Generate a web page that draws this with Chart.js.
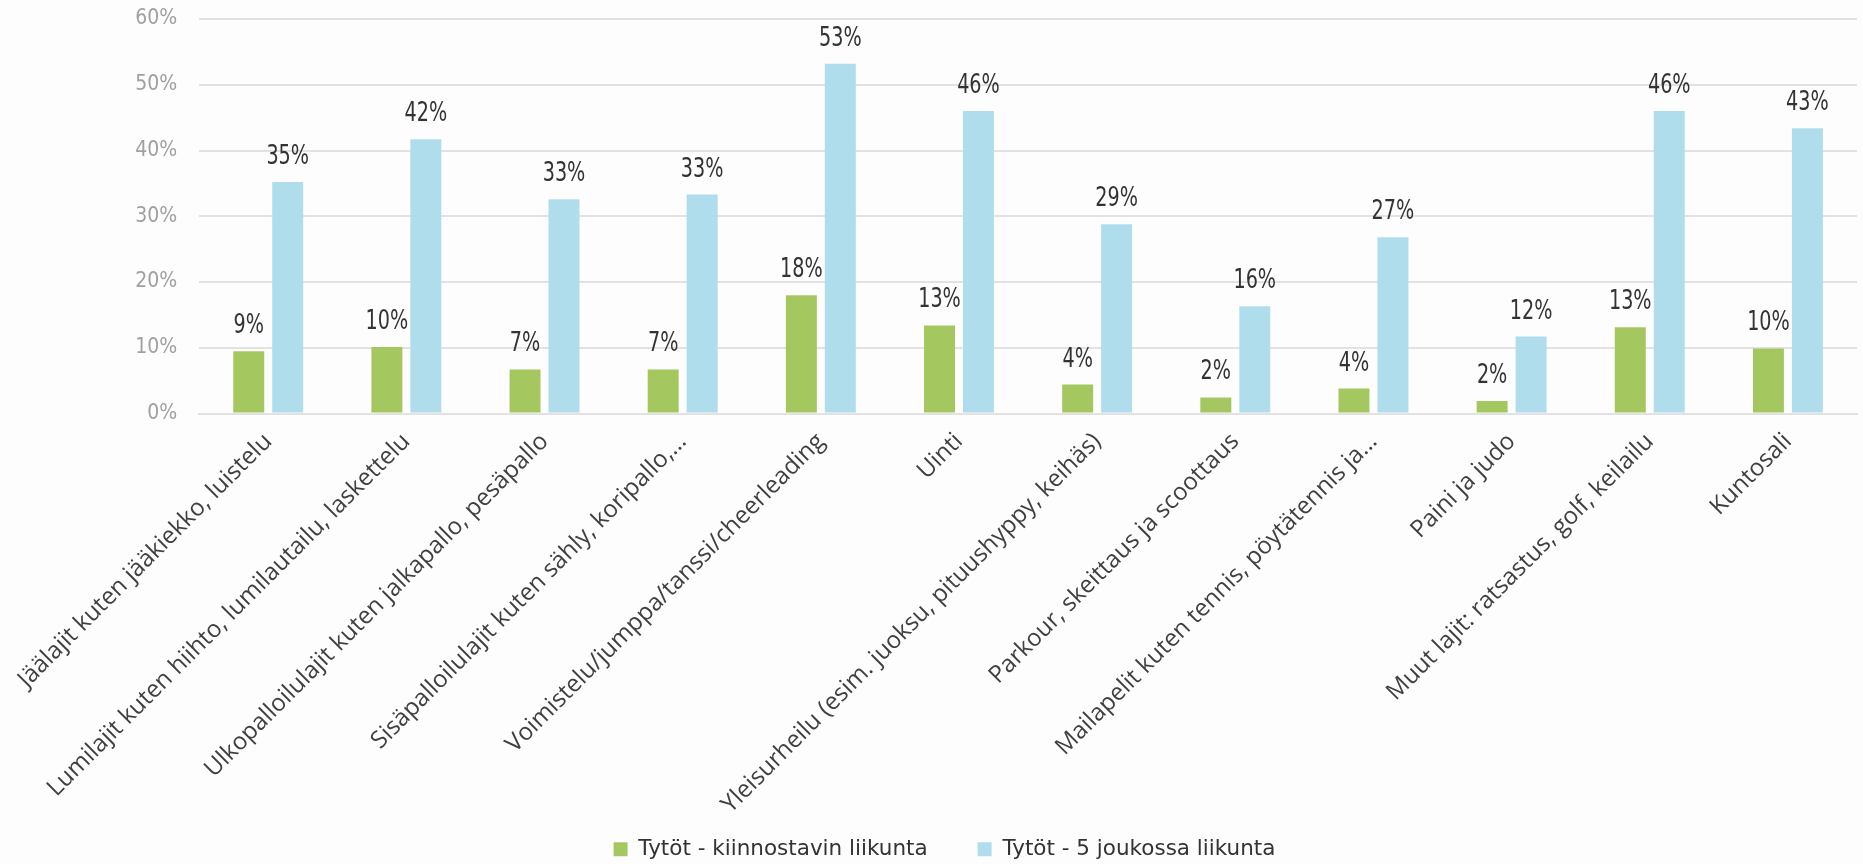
<!DOCTYPE html>
<html lang="fi">
<head>
<meta charset="utf-8">
<title>Tytöt - liikunta</title>
<script src="https://cdn.jsdelivr.net/npm/chart.js@4"></script>
<style>
    html, body { margin: 0; padding: 0; background: #fdfdfd; }
    #wrap { width: 1863px; height: 864px; position: relative; }
</style>
</head>
<body>
<div id="wrap"><canvas id="sportChart"></canvas></div>
<script>
// lajit
const categories = [
    'Jäälajit kuten jääkiekko, luistelu',
    'Lumilajit kuten hiihto, lumilautailu, laskettelu',
    'Ulkopalloilulajit kuten jalkapallo, pesäpallo',
    'Sisäpalloilulajit kuten sähly, koripallo,…',
    'Voimistelu/jumppa/tanssi/cheerleading',
    'Uinti',
    'Yleisurheilu (esim. juoksu, pituushyppy, keihäs)',
    'Parkour, skeittaus ja scoottaus',
    'Mailapelit kuten tennis, pöytätennis ja…',
    'Paini ja judo',
    'Muut lajit: ratsastus, golf, keilailu',
    'Kuntosali'
];

// arvot (%)
const kiinnostavin = [9.45, 10.1, 6.7, 6.7, 18.0, 13.4, 4.4, 2.45, 3.8, 1.9, 13.1, 9.9];
const joukossa5 = [35.2, 41.7, 32.6, 33.3, 53.2, 46.0, 28.8, 16.3, 26.8, 11.7, 46.0, 43.4];

const seriesNames = ['Tytöt - kiinnostavin liikunta', 'Tytöt - 5 joukossa liikunta'];
const yTickLabels = ['0%', '10%', '20%', '30%', '40%', '50%', '60%'];

const green = '#a4c85f';
const blue = '#b0ddec';
const narrow = "'Liberation Sans Narrow', 'DejaVu Sans Condensed', sans-serif";

// arvot pylväiden päälle (hieman kavennettuna)
const valueLabels = {
    id: 'valueLabels',
    afterDatasetsDraw(chart) {
        const ctx = chart.ctx;
        ctx.save();
        ctx.font = '26px ' + narrow;
        ctx.fillStyle = '#333333';
        ctx.textAlign = 'center';
        ctx.textBaseline = 'alphabetic';
        chart.data.datasets.forEach((ds, i) => {
            chart.getDatasetMeta(i).data.forEach((bar, j) => {
                ctx.save();
                ctx.translate(bar.x, bar.y - 18);
                ctx.scale(0.82, 1);
                ctx.fillText(Math.round(ds.data[j]) + '%', 0, 0);
                ctx.restore();
            });
        });
        ctx.restore();
    }
};

new Chart(document.getElementById('sportChart'), {
    type: 'bar',
    data: {
        labels: categories,
        datasets: [
            { label: seriesNames[0], data: kiinnostavin, backgroundColor: green },
            { label: seriesNames[1], data: joukossa5, backgroundColor: blue }
        ]
    },
    options: {
        responsive: true,
        maintainAspectRatio: false,
        animation: false,
        categoryPercentage: 0.564,
        barPercentage: 0.795,
        layout: { padding: { top: 19, right: 6, left: 32, bottom: -6 } },
        plugins: {
            tooltip: { enabled: false },
            legend: {
                position: 'bottom',
                labels: {
                    boxWidth: 14,
                    boxHeight: 14,
                    padding: 50,
                    color: '#333333',
                    font: { family: 'DejaVu Sans', size: 21.5 }
                }
            }
        },
        scales: {
            y: {
                min: 0,
                max: 60,
                ticks: {
                    stepSize: 10,
                    padding: 0,
                    color: '#a0a0a0',
                    font: { family: narrow, size: 21 },
                    callback: (v, i) => yTickLabels[i]
                },
                grid: { color: '#e2e2e2', lineWidth: 2, drawTicks: true, tickLength: 22, tickColor: 'rgba(0,0,0,0)' },
                border: { display: false },
                afterFit: s => { s.width = 167; }
            },
            x: {
                ticks: {
                    minRotation: 45,
                    maxRotation: 45,
                    autoSkip: false,
                    padding: 14,
                    color: '#404040',
                    font: { family: 'Open Sans', size: 24 }
                },
                grid: { display: false, drawTicks: false },
                border: { color: '#e2e2e2', width: 2 },
                afterFit: s => {
                    s.height = 375;
                    // pitkät nimet saavat ulottua selitteen puolelle
                    s._computeLabelArea = () => null;
                }
            }
        }
    },
    plugins: [valueLabels]
});
</script>
</body>
</html>
